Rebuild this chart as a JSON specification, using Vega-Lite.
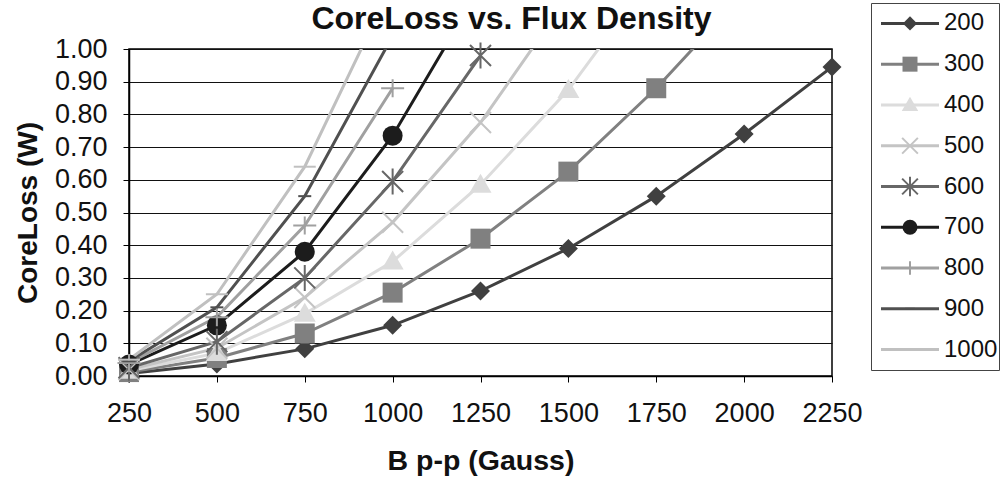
{
  "$schema": "https://vega.github.io/schema/vega-lite/v6.json",
  "padding": {"left": 13, "top": 0, "right": 0, "bottom": 0},
  "background": "white",
  "config": {"font": "Liberation Sans", "concat": {"spacing": 7}},
  "datasets": {
    "loss": [
      {"s": "200", "B": 250, "W": 0.008}, {"s": "200", "B": 500, "W": 0.037}, {"s": "200", "B": 750, "W": 0.083}, {"s": "200", "B": 1000, "W": 0.155}, {"s": "200", "B": 1250, "W": 0.26}, {"s": "200", "B": 1500, "W": 0.39}, {"s": "200", "B": 1750, "W": 0.55}, {"s": "200", "B": 2000, "W": 0.74}, {"s": "200", "B": 2250, "W": 0.945},
      {"s": "300", "B": 250, "W": 0.012}, {"s": "300", "B": 500, "W": 0.055}, {"s": "300", "B": 750, "W": 0.13}, {"s": "300", "B": 1000, "W": 0.255}, {"s": "300", "B": 1250, "W": 0.42}, {"s": "300", "B": 1500, "W": 0.625}, {"s": "300", "B": 1750, "W": 0.88}, {"s": "300", "B": 2000, "W": 1.17},
      {"s": "400", "B": 250, "W": 0.016}, {"s": "400", "B": 500, "W": 0.07}, {"s": "400", "B": 750, "W": 0.19}, {"s": "400", "B": 1000, "W": 0.35}, {"s": "400", "B": 1250, "W": 0.585}, {"s": "400", "B": 1500, "W": 0.875}, {"s": "400", "B": 1750, "W": 1.24},
      {"s": "500", "B": 250, "W": 0.02}, {"s": "500", "B": 500, "W": 0.085}, {"s": "500", "B": 750, "W": 0.24}, {"s": "500", "B": 1000, "W": 0.47}, {"s": "500", "B": 1250, "W": 0.775}, {"s": "500", "B": 1500, "W": 1.16},
      {"s": "600", "B": 250, "W": 0.025}, {"s": "600", "B": 500, "W": 0.105}, {"s": "600", "B": 750, "W": 0.3}, {"s": "600", "B": 1000, "W": 0.595}, {"s": "600", "B": 1250, "W": 0.98},
      {"s": "700", "B": 250, "W": 0.035}, {"s": "700", "B": 500, "W": 0.155}, {"s": "700", "B": 750, "W": 0.38}, {"s": "700", "B": 1000, "W": 0.735}, {"s": "700", "B": 1250, "W": 1.19},
      {"s": "800", "B": 250, "W": 0.04}, {"s": "800", "B": 500, "W": 0.18}, {"s": "800", "B": 750, "W": 0.46}, {"s": "800", "B": 1000, "W": 0.88},
      {"s": "900", "B": 250, "W": 0.045}, {"s": "900", "B": 500, "W": 0.21}, {"s": "900", "B": 750, "W": 0.55}, {"s": "900", "B": 1000, "W": 1.04},
      {"s": "1000", "B": 250, "W": 0.05}, {"s": "1000", "B": 500, "W": 0.25}, {"s": "1000", "B": 750, "W": 0.64}, {"s": "1000", "B": 1000, "W": 1.2}
    ],
    "series": [
      {"s": "200"}, {"s": "300"}, {"s": "400"}, {"s": "500"}, {"s": "600"}, {"s": "700"}, {"s": "800"}, {"s": "900"}, {"s": "1000"}
    ]
  },
  "hconcat": [
    {
      "spacing": -5,
      "vconcat": [
        {
          "width": 703,
          "height": 1,
          "view": {"stroke": null},
          "data": {"name": "series"},
          "mark": {"type": "point", "opacity": 0},
          "encoding": {}
        },
        {
          "width": 703,
          "height": 327,
          "title": {"text": "CoreLoss vs. Flux Density", "fontSize": 32, "fontWeight": "bold", "color": "#111111", "anchor": "middle", "frame": "group", "dx": 31, "offset": -1},
          "data": {"name": "loss"},
          "view": {"stroke": "#000000", "strokeWidth": 1.5},
          "encoding": {
            "x": {
              "field": "B", "type": "quantitative",
              "scale": {"domain": [250, 2250], "nice": false, "zero": false},
              "axis": {"values": [250, 500, 750, 1000, 1250, 1500, 1750, 2000, 2250], "format": "d", "labelFontSize": 27, "labelColor": "#111111", "labelPadding": 18, "tickSize": 6, "tickColor": "#000000", "domainColor": "#000000", "domainWidth": 1.5, "grid": false, "title": "B p-p (Gauss)", "titleFontSize": 28.5, "titleFontWeight": "bold", "titleColor": "#111111", "titlePadding": 20, "labelFlush": false}
            },
            "y": {
              "field": "W", "type": "quantitative",
              "scale": {"domain": [0, 1], "nice": false},
              "axis": {"values": [0, 0.1, 0.2, 0.3, 0.4, 0.5, 0.6, 0.7, 0.8, 0.9, 1], "format": ".2f", "labelFontSize": 27, "labelColor": "#111111", "labelPadding": 16, "tickSize": 6, "tickColor": "#000000", "domainColor": "#000000", "domainWidth": 1.5, "grid": true, "gridColor": "#111111", "gridWidth": 1, "title": "CoreLoss (W)", "titleFontSize": 28, "titleFontWeight": "bold", "titleColor": "#111111", "titlePadding": 12, "labelFlush": false}
            },
            "color": {
              "field": "s", "type": "nominal",
              "scale": {"domain": ["200", "300", "400", "500", "600", "700", "800", "900", "1000"], "range": ["#404040", "#808080", "#dcdcdc", "#c4c4c4", "#676767", "#1c1c1c", "#a0a0a0", "#505050", "#c0c0c0"]},
              "legend": null
            }
          },
          "layer": [
            {"mark": {"type": "line", "strokeWidth": 3, "clip": true}},
            {
              "transform": [{"filter": "datum.W <= 1 && indexof(['200','300','400','700'], datum.s) >= 0"}],
              "mark": {"type": "point", "filled": true, "opacity": 1, "size": 400},
              "encoding": {
                "shape": {"field": "s", "type": "nominal", "scale": {"domain": ["200", "300", "400", "500", "600", "700", "800", "900", "1000"], "range": ["M-0.95,0L0,-0.95L0.95,0L0,0.95Z", "M-1,-1H1V1H-1Z", "M0,-1.1L1.1,0.8H-1.1Z", "M-1.05,-1.05L1.05,1.05M-1.05,1.05L1.05,-1.05", "M-1.05,-1.05L1.05,1.05M-1.05,1.05L1.05,-1.05M0,-1.3V1.3", "circle", "M-1.15,0H1.15M0,-0.9V0.9", "M-0.65,0H0.65", "M-1.1,0H1.1"]}, "legend": null}
              }
            },
            {
              "transform": [{"filter": "datum.W <= 1 && indexof(['500','600','800','900','1000'], datum.s) >= 0"}],
              "mark": {"type": "point", "filled": false, "opacity": 1, "size": 400},
              "encoding": {
                "shape": {"field": "s", "type": "nominal", "legend": null},
                "strokeWidth": {"field": "s", "type": "ordinal", "scale": {"domain": ["500", "600", "800", "900", "1000"], "range": [2, 2, 2, 4, 3]}, "legend": null}
              }
            }
          ]
        }
      ]
    },
    {
      "width": 128,
      "height": 367,
      "view": {"stroke": "#444444", "strokeWidth": 1},
      "data": {"name": "series"},
      "encoding": {
        "y": {"field": "s", "type": "ordinal", "scale": {"type": "point", "domain": ["200", "300", "400", "500", "600", "700", "800", "900", "1000"], "padding": 0.5}, "axis": null},
        "color": {
          "field": "s", "type": "nominal",
          "scale": {"domain": ["200", "300", "400", "500", "600", "700", "800", "900", "1000"], "range": ["#404040", "#808080", "#dcdcdc", "#c4c4c4", "#676767", "#1c1c1c", "#a0a0a0", "#505050", "#c0c0c0"]},
          "legend": null
        }
      },
      "layer": [
        {
          "mark": {"type": "rule", "strokeWidth": 3},
          "encoding": {
            "x": {"datum": 10, "type": "quantitative", "scale": {"domain": [0, 128], "nice": false, "zero": false}, "axis": null},
            "x2": {"datum": 68}
          }
        },
        {
          "transform": [{"filter": "indexof(['200','300','400','700'], datum.s) >= 0"}],
          "mark": {"type": "point", "filled": true, "opacity": 1, "size": 225},
          "encoding": {
            "x": {"datum": 39, "type": "quantitative"},
            "shape": {"field": "s", "type": "nominal", "scale": {"domain": ["200", "300", "400", "500", "600", "700", "800", "900", "1000"], "range": ["M-0.85,0L0,-0.85L0.85,0L0,0.85Z", "M-1,-1H1V1H-1Z", "M0,-1.1L1.1,0.8H-1.1Z", "M-1,-1L1,1M-1,1L1,-1", "M-1,-1L1,1M-1,1L1,-1M0,-1.2V1.2", "circle", "M-1.1,0H1.1M0,-1.1V1.1", "M-0.6,0H0.6", "M-1.3,0H1.3"]}, "legend": null}
          }
        },
        {
          "transform": [{"filter": "indexof(['500','600','800','900','1000'], datum.s) >= 0"}],
          "mark": {"type": "point", "filled": false, "opacity": 1, "size": 225},
          "encoding": {
            "x": {"datum": 39, "type": "quantitative"},
            "shape": {"field": "s", "type": "nominal", "legend": null},
            "strokeWidth": {"field": "s", "type": "ordinal", "scale": {"domain": ["500", "600", "800", "900", "1000"], "range": [1.5, 1.5, 1.5, 5, 5]}, "legend": null}
          }
        },
        {
          "mark": {"type": "text", "align": "left", "baseline": "middle", "fontSize": 24, "color": "#111111"},
          "encoding": {
            "x": {"datum": 73, "type": "quantitative"},
            "text": {"field": "s"},
            "color": {"value": "#111111"}
          }
        }
      ]
    }
  ]
}
